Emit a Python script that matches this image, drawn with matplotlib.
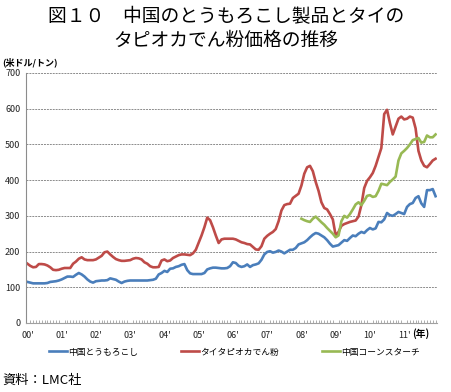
import matplotlib
matplotlib.use('Agg')
import matplotlib.pyplot as plt
from matplotlib.ticker import MultipleLocator

plt.rcParams['font.family'] = ['Noto Sans CJK JP', 'DejaVu Sans']

# monthly prices, Jan 2000 - Dec 2011 (US$/t)
corn = [115, 113, 111, 111, 111, 111, 111, 112, 115, 116, 117, 119,
        122, 126, 130, 130, 129, 135, 140, 136, 130, 122, 116, 113,
        117, 118, 119, 119, 120, 125, 123, 121, 116, 112, 116, 118,
        119, 119, 119, 119, 119, 119, 119, 120, 121, 124, 136, 140,
        146, 143, 152, 153, 157, 159, 163, 165, 148, 139, 137, 137,
        137, 137, 140, 150, 153, 155, 155, 154, 153, 153, 154, 159,
        170, 168, 160, 157, 159, 164, 157, 162, 164, 167, 177, 192,
        199, 201, 197, 199, 203, 200, 195, 200, 205, 205, 210, 220,
        223, 226, 232, 240, 247, 252, 250, 245, 240, 232, 222, 214,
        216, 218, 225, 232, 230, 238, 245, 243, 250, 255, 252, 260,
        266, 262, 265, 283, 282, 290, 308, 302, 300, 305, 311, 308,
        305, 325, 333, 336, 350, 355, 335, 325, 372, 372, 375, 355]

tapioca = [166, 160, 156, 157, 165, 165, 164, 161, 156, 149, 148, 149,
           152, 154, 154, 154, 166, 172, 180, 184, 178, 176, 176, 176,
           178, 183, 188, 198, 200, 192, 185, 179, 176, 174, 174, 175,
           176, 180, 182, 181, 178, 170, 166, 159, 156, 156, 157, 175,
           178, 173, 175, 182, 186, 190, 192, 192, 191, 190, 195, 205,
           225, 245, 268, 295, 288, 268, 245, 224, 234, 236, 236, 236,
           236, 234, 230, 226, 224, 221, 220, 213, 206, 205, 215, 236,
           244, 250, 255, 263, 285, 315, 330, 333, 334, 350, 356, 362,
           385, 418, 436, 440, 425, 395, 370, 338, 322, 318, 305, 290,
           245, 255, 272, 277, 280, 283, 285, 287, 298, 330, 378, 398,
           408, 420, 440, 465, 490, 585, 597, 560, 528, 550, 572, 578,
           570, 572, 578, 575, 545, 482, 455, 440, 436, 445, 455, 460]

# corn starch series starts Jan 2008
starch_start = 96
starch = [292, 288, 285, 283, 292, 298, 290, 282, 275, 266, 258, 250,
          240, 245, 285, 300, 295, 305, 318, 332, 338, 330, 342, 356,
          358, 353, 355, 370, 390, 388, 386, 395, 402, 410, 455, 475,
          482, 490, 500, 512, 515, 518, 505, 507, 525, 520, 520, 528]

years = ["00'", "01'", "02'", "03'", "04'", "05'", "06'", "07'", "08'", "09'", "10'", "11'"]
names = ['中国とうもろこし', 'タイタピオカでん粉', '中国コーンスターチ']
colors = ['#4A7EBB', '#BE4B48', '#98B954']

fig = plt.figure(figsize=(4.52, 3.92), dpi=100)
ax = fig.add_axes([26/452, 1 - 323/392, 411/452, 250/392])

m = list(range(len(corn)))
ax.plot(m, corn, color=colors[0], lw=1.9, label=names[0], solid_joinstyle='round')
ax.plot(m, tapioca, color=colors[1], lw=1.9, label=names[1], solid_joinstyle='round')
ax.plot(range(starch_start, starch_start + len(starch)), starch, color=colors[2], lw=1.9,
        label=names[2], solid_joinstyle='round')

ax.set_xlim(-0.5, 143.5)
ax.set_ylim(0, 700)
ax.yaxis.set_major_locator(MultipleLocator(100))
ax.set_xticks(range(0, 144, 12))
ax.set_xticklabels(years)
ax.xaxis.set_minor_locator(MultipleLocator(1))
ax.grid(axis='y', color='#8c8c8c', ls=(0, (2, 1)), lw=0.7)
ax.set_axisbelow(True)
for s in ['top', 'right']:
    ax.spines[s].set_visible(False)
ax.spines['left'].set_color('#8c8c8c')
ax.spines['bottom'].set_color('#a0a0a0')
ax.tick_params(axis='both', which='major', length=0, labelsize=6.5, colors='#222222')
ax.tick_params(axis='x', which='minor', length=2, direction='in', color='#a0a0a0')
ax.tick_params(axis='x', pad=6)
ax.tick_params(axis='y', pad=4)

fig.text(0.5, 1 - 17/392, '図１０　中国のとうもろこし製品とタイの', ha='center', va='center', fontsize=13.5)
fig.text(0.5, 1 - 40/392, 'タピオカでん粉価格の推移', ha='center', va='center', fontsize=13.5)
fig.text(2/452, 1 - 62/392, '(米ドル/トン)', ha='left', va='center', fontsize=6.5, fontweight='bold')
fig.text(412/452, 1 - 334/392, '(年)', ha='left', va='center', fontsize=7, fontweight='bold')
fig.text(2/452, 1 - 380/392, '資料：LMC社', ha='left', va='center', fontsize=9.5)

fig.legend(loc='center left', bbox_to_anchor=(49/452, 1 - 352/392), ncol=3, frameon=False,
           fontsize=6.3, handlelength=2.0, handletextpad=0.2, columnspacing=4.9,
           borderaxespad=0, borderpad=0)

fig.savefig('out.png', dpi=100)
